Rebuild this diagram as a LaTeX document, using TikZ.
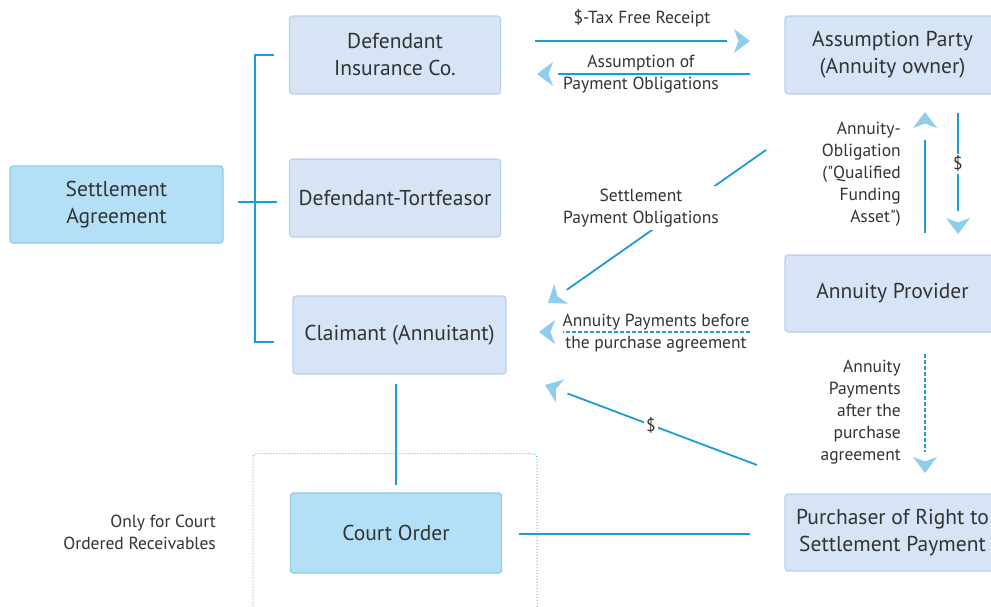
\documentclass[tikz,border=0pt]{standalone}
\usepackage{fontspec}
\setmainfont{PT Sans}
\usepackage{xcolor}
\usepackage{tikz}
\usetikzlibrary{
    positioning,
    arrows.meta,
    decorations.markings
}
\definecolor{lineBlue}{RGB}{30, 155, 215}
\definecolor{tipBlue}{RGB}{142, 205, 236}
\definecolor{boxFill}{RGB}{214, 228, 245}
\definecolor{boxEdge}{RGB}{185, 208, 236}
\definecolor{keyFill}{RGB}{179, 224, 247}
\definecolor{keyEdge}{RGB}{142, 205, 230}
\definecolor{textGray}{RGB}{51, 51, 51}

\tikzset{
    party/.style={draw=boxEdge, fill=boxFill, line width=1.2pt, rounded corners=3pt,
        minimum width=211pt, minimum height=78pt, align=center, text=textGray,
        font=\fontsize{21.5}{27}\selectfont},
    keybox/.style={party, draw=keyEdge, fill=keyFill},
    link/.style={draw=lineBlue, line width=1.8pt},
    flow/.style={link, shorten >=#1, postaction={decorate, decoration={markings,
        mark=at position 1 with {\arrow{Stealth[color=tipBlue, length=16pt, width=24pt, inset=4.5pt]}}}}},
    flow/.default=23pt,
    note/.style={text=textGray, align=center, font=\fontsize{17.5}{22}\selectfont, inner sep=2pt},
    gapnote/.style={note, fill=white}
}

\begin{document}
\begin{tikzpicture}[x=1pt, y=-1pt]
    \clip (0,0) rectangle (991,606);

    % boxes
    \node[keybox, minimum width=213pt, minimum height=77pt] (settle) at (116.5,204.5) {Settlement\\Agreement};
    \node[party] (insurer) at (395,55) {Defendant\\Insurance Co.};
    \node[party] (tortfeasor) at (395,198) {Defendant-Tortfeasor};
    \node[party, minimum width=213pt] (claimant) at (399.5,335) {Claimant (Annuitant)};
    \node[keybox, minimum height=80pt] (court) at (396,533) {Court Order};
    \node[party, minimum width=215pt] (assumer) at (892.5,55) {Assumption Party\\(Annuity owner)};
    \node[party, minimum width=215pt, minimum height=77pt] (provider) at (892.5,293.5) {Annuity Provider};
    \node[party, minimum width=215pt, minimum height=77pt] (purchaser) at (892.5,532.5) {Purchaser of Right to\\Settlement Payment};

    % bracket of the parties
    \coordinate (brTop) at (274,55);
    \coordinate (brBot) at (274,342);
    \coordinate (brMid) at (277,202);
    \draw[link, line width=1.5pt] (brTop) -- (255,55) -- (255,342) -- (brBot);
    \draw[link] ([xshift=14pt]settle.east |- brMid) -- (brMid);

    % court order frame
    \draw[lineBlue!70, dotted, line width=1pt, rounded corners=4pt] (253,453.5) rectangle (537,620);
    \coordinate (clBot) at (396,384);
    \coordinate (coTop) at (396,485);
    \draw[link] (clBot) -- (coTop);
    \coordinate (coRight) at (519,534);
    \coordinate (puLeft) at (750,534);
    \draw[link] (coRight) -- (puLeft);
    \node[note, align=right, anchor=east] (onlyCourt) at (218,532) {Only for Court\\Ordered Receivables};

    % insurer and assumption party
    \coordinate (taxS) at (535,41);
    \coordinate (taxE) at (750,41);
    \draw[flow] (taxS) -- (taxE);
    \node[note] (taxLbl) at (642,18) {\$-Tax Free Receipt};
    \coordinate (oblS) at (750,74);
    \coordinate (oblE) at (537,74);
    \draw[flow=21pt] (oblS) -- (oblE);
    \node[note] (oblLbl) at (641,74) {Assumption of\\Payment Obligations};

    % assumption party and annuity provider
    \coordinate (qfaS) at (925,233);
    \coordinate (qfaE) at (925,112);
    \draw[flow=28pt] (qfaS) -- (qfaE);
    \node[note, align=right, anchor=east] (qfaLbl) at (903,174)
        {Annuity-\\Obligation\\(\textquotedbl Qualified\\Funding\\Asset\textquotedbl)};
    \coordinate (payS) at (958,113);
    \coordinate (payE) at (958,234);
    \draw[flow] (payS) -- (payE) node[gapnote, pos=0.42] (payLbl) {\$};

    % towards the claimant
    \coordinate (spoS) at (766,150);
    \coordinate (spoE) at (548,303);
    \draw[flow] (spoS) -- (spoE);
    \node[gapnote, inner sep=3pt] (spoLbl) at (641,208) {Settlement\\Payment Obligations};
    \coordinate (befS) at (750,332);
    \coordinate (befE) at (539,332);
    \draw[flow=24pt, line width=1.5pt, dash pattern=on 4pt off 2pt] (befS) -- (befE);
    \node[note] (befLbl) at (656,333.5) {Annuity Payments before\\the purchase agreement};
    \coordinate (buyS) at (757,465);
    \coordinate (buyE) at (545,385);
    \draw[flow=24pt] (buyS) -- (buyE) node[gapnote, pos=0.5] (buyLbl) {\$};

    % annuity provider and purchaser
    \coordinate (aftS) at (925,354);
    \coordinate (aftE) at (925,473);
    \draw[flow=21pt, line width=1.5pt, dash pattern=on 4pt off 2pt] (aftS) -- (aftE);
    \node[note, align=right, anchor=east] (aftLbl) at (903,412) {Annuity\\Payments\\after the\\purchase\\agreement};
\end{tikzpicture}
\end{document}
